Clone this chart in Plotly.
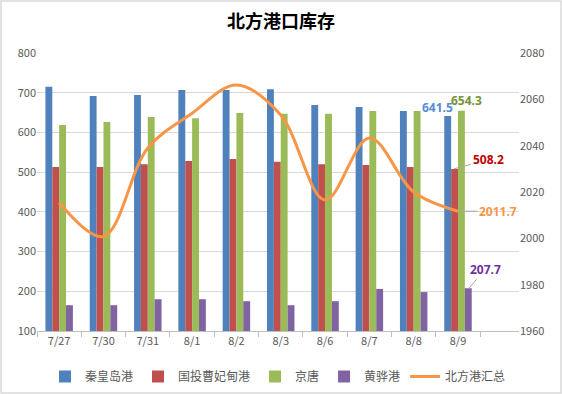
import plotly.graph_objects as go

categories = ["7/27", "7/30", "7/31", "8/1", "8/2", "8/3", "8/6", "8/7", "8/8", "8/9"]
qhd = [715, 692, 694, 707, 707, 709, 669, 664, 654, 641.5]
cfd = [513, 513, 520, 528, 533, 526, 520, 518, 513, 508.2]
jingtang = [619, 626, 639, 636, 649, 647, 647, 654, 654, 654.3]
huanghua = [165, 165, 180, 180, 175, 165, 175, 206, 198, 207.7]
total = [2015.5, 2000.8, 2039, 2054, 2066.2, 2053.2, 2016.5, 2043.3, 2020, 2011.7]

names = ["秦皇岛港", "国投曹妃甸港", "京唐", "黄骅港", "北方港汇总"]
colors = ["#4F81BD", "#C0504D", "#9BBB59", "#8064A2", "#F79646"]

W, H = 562, 394
ML, MR, MT, MB = 37, 43, 53, 63
PW, PH = W - ML - MR, H - MT - MB

FONT = "Noto Sans CJK SC, Noto Sans, sans-serif"

fig = go.Figure()
for nm, vals, c in zip(names[:4], [qhd, cfd, jingtang, huanghua], colors[:4]):
    fig.add_trace(go.Bar(x=categories, y=vals, name=nm, marker_color=c,
                         marker_line_width=0, yaxis="y"))
fig.add_trace(go.Scatter(x=categories, y=total, name=names[4], yaxis="y2",
                         mode="lines", line=dict(color=colors[4], width=3,
                                                 shape="spline", smoothing=1)))

last = categories[-1]
ann = [
    dict(x=last, y=qhd[-1], yref="y", text="<b>641.5</b>", showarrow=False,
         xshift=-21, yshift=8, font=dict(color="#558ED5", size=12, family="Noto Sans")),
    dict(x=last, y=jingtang[-1], yref="y", text="<b>654.3</b>", showarrow=False,
         xshift=8, yshift=10, font=dict(color="#77933C", size=12, family="Noto Sans")),
    dict(x=last, y=cfd[-1], yref="y", text="<b>508.2</b>", showarrow=True,
         arrowhead=0, arrowwidth=1, arrowcolor="#A6A6A6", ax=34, ay=-9, xshift=-4,
         font=dict(color="#C00000", size=12, family="Noto Sans")),
    dict(x=last, y=total[-1], yref="y2", text="<b>2011.7</b>", showarrow=True,
         arrowhead=0, arrowwidth=1, arrowcolor="#A6A6A6", ax=40, ay=0,
         font=dict(color="#F79646", size=12, family="Noto Sans")),
    dict(x=last, y=huanghua[-1], yref="y", text="<b>207.7</b>", showarrow=True,
         arrowhead=0, arrowwidth=1, arrowcolor="#A6A6A6", ax=16, ay=-19, xshift=11,
         font=dict(color="#7030A0", size=12, family="Noto Sans")),
]

fig.update_layout(
    width=W, height=H,
    margin=dict(l=ML, r=MR, t=MT, b=MB, autoexpand=False),
    paper_bgcolor="white", plot_bgcolor="white",
    font=dict(family=FONT, size=11, color="#595959"),
    title=dict(text="<b>北方港口库存</b>", x=0.5, xanchor="center", y=1 - 22 / H,
               yanchor="middle", font=dict(size=18, color="#000000", family=FONT)),
    barmode="group", bargap=0.38, bargroupgap=0,
    xaxis=dict(type="category", showline=True, linecolor="#BFBFBF", linewidth=1,
               ticks="outside", tickson="boundaries", ticklen=5, tickcolor="#BFBFBF",
               showgrid=False, automargin=False, tickfont=dict(size=11, color="#595959")),
    yaxis=dict(range=[100, 800], dtick=100, showgrid=True, gridcolor="#D9D9D9",
               gridwidth=1, zeroline=False, showline=False, ticks="", automargin=False,
               tickfont=dict(size=11, color="#595959")),
    yaxis2=dict(range=[1960, 2080], dtick=20, overlaying="y", side="right",
                showgrid=False, zeroline=False, showline=False, ticks="", automargin=False,
                tickfont=dict(size=11, color="#595959")),
    legend=dict(orientation="h", x=0.5, xanchor="center", y=(331 - 362) / PH,
                yanchor="top", font=dict(size=12, color="#595959", family=FONT),
                itemwidth=30, traceorder="normal"),
    annotations=ann,
    shapes=[dict(type="rect", xref="paper", yref="paper",
                 x0=(1 - ML) / PW, x1=(W - 1 - ML) / PW,
                 y0=-(MB - 1) / PH, y1=1 + (MT - 1) / PH,
                 line=dict(color="#D9D9D9", width=1.5), fillcolor="rgba(0,0,0,0)",
                 layer="below")],
)

fig.write_html("out.html", post_script="document.body.style.margin='0';",
               config={"displayModeBar": False})
